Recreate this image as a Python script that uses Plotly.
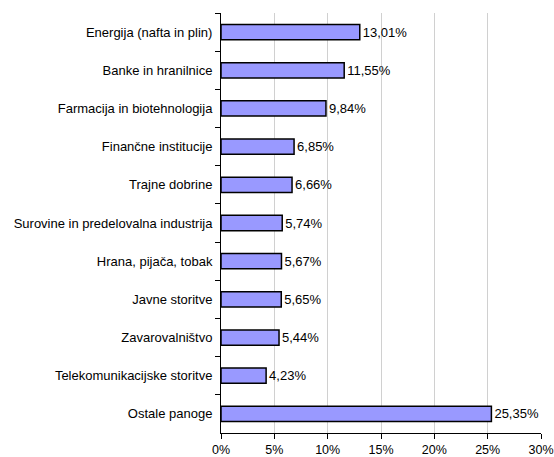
import plotly.graph_objects as go

categories = [
    "Energija (nafta in plin)",
    "Banke in hranilnice",
    "Farmacija in biotehnologija",
    "Finančne institucije",
    "Trajne dobrine",
    "Surovine in predelovalna industrija",
    "Hrana, pijača, tobak",
    "Javne storitve",
    "Zavarovalništvo",
    "Telekomunikacijske storitve",
    "Ostale panoge",
]
values = [13.01, 11.55, 9.84, 6.85, 6.66, 5.74, 5.67, 5.65, 5.44, 4.23, 25.35]
x_ticks = [0, 5, 10, 15, 20, 25, 30]
x_tick_labels = ["0%", "5%", "10%", "15%", "20%", "25%", "30%"]

fig = go.Figure(go.Bar(
    x=values, y=categories, orientation="h",
    marker=dict(color="#9999FF", line=dict(color="black", width=1.5)),
    width=0.4,
    texttemplate="%{x:.2f}%", textposition="outside",
    textfont=dict(color="black", size=13, family="Liberation Sans"),
    cliponaxis=False,
))

fig.update_layout(
    width=554, height=457,
    margin=dict(l=221, r=13, t=13, b=24, autoexpand=False),
    plot_bgcolor="white", paper_bgcolor="white",
    separators=",.",
    font=dict(family="Liberation Sans, Arial", size=13, color="black"),
    showlegend=False,
)
fig.update_xaxes(
    range=[0, 30], tickmode="array", tickvals=x_ticks, ticktext=x_tick_labels,
    tickfont=dict(size=12.5),
    showgrid=True, gridcolor="#d0d0d0", gridwidth=1,
    showline=True, linecolor="black", linewidth=1,
    ticks="outside", ticklen=5, tickcolor="black",
    ticklabeloverflow="allow",
    zeroline=False, automargin=False,
)
fig.update_yaxes(
    autorange="reversed", type="category",
    showline=True, linecolor="black", linewidth=1,
    ticks="outside", ticklen=5, tickcolor="black", tickson="boundaries",
    ticklabelstandoff=5,
    showgrid=False, automargin=False,
)

# remove the browser's default 8px body margin so the figure fills the window exactly
fig.write_html(
    "out.html",
    config={"displayModeBar": False},
    post_script="document.body.style.margin='0';document.body.style.overflow='hidden';",
)
